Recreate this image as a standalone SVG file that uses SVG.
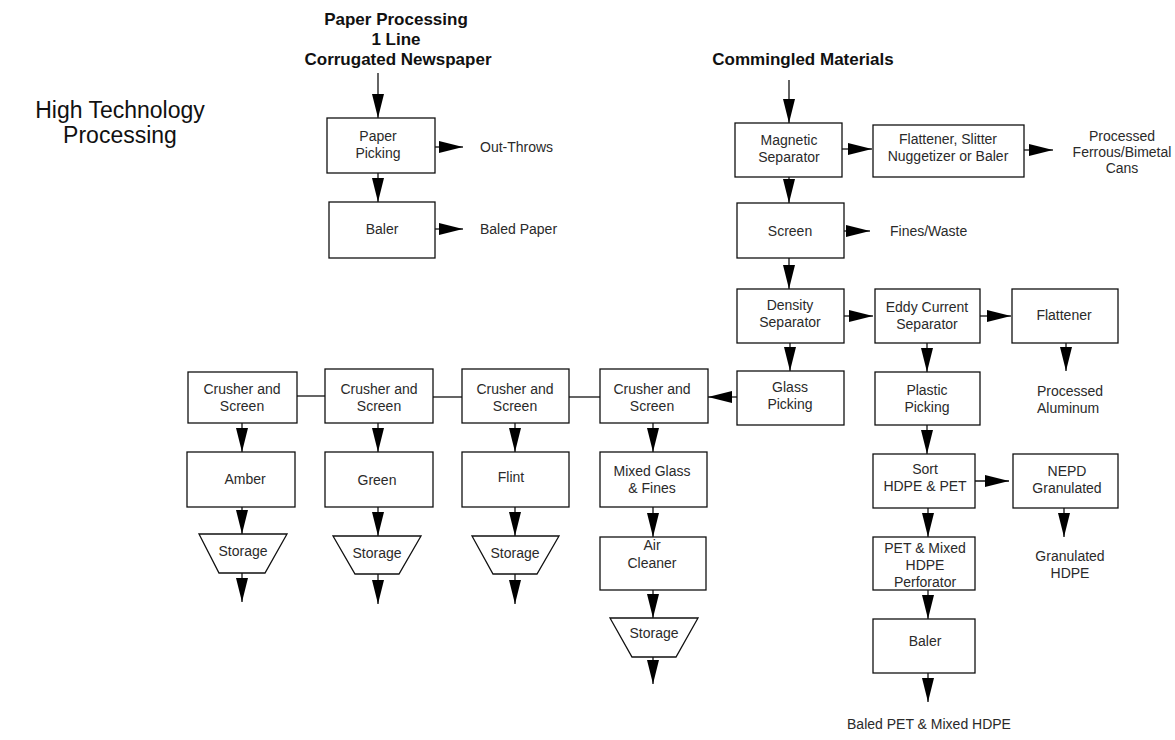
<svg xmlns="http://www.w3.org/2000/svg" width="1175" height="740" viewBox="0 0 1175 740">
<style>
  .box{fill:#fff;stroke:#111;stroke-width:1.3}
  .t{font-family:"Liberation Sans",Arial,sans-serif;font-size:14px;fill:#2a2a2a;text-anchor:middle}
  .ts{font-family:"Liberation Sans",Arial,sans-serif;font-size:14px;fill:#2a2a2a;text-anchor:start}
  .h{font-family:"Liberation Sans",Arial,sans-serif;font-size:17px;font-weight:bold;fill:#111;text-anchor:middle}
  .title{font-family:"Liberation Sans",Arial,sans-serif;font-size:23px;fill:#111;text-anchor:middle}
  .c{stroke:#111;stroke-width:1.3;fill:none}
  .a{stroke:#111;stroke-width:1.3;fill:none;marker-end:url(#ah)}
</style>
<defs>
  <marker id="ah" markerUnits="userSpaceOnUse" markerWidth="24" markerHeight="12" viewBox="0 0 24 12" refX="24" refY="6" orient="auto">
    <path d="M0,0 L24,6 L0,12 z" fill="#000"/>
  </marker>
</defs>
<rect width="1175" height="740" fill="#fff"/>

<g id="title">
  <text class="title" x="120" y="118">High Technology</text>
  <text class="title" x="120" y="143">Processing</text>
</g>
<g id="paper-header">
  <text class="h" x="396" y="25">Paper Processing</text>
  <text class="h" x="396" y="45">1 Line</text>
  <text class="h" x="398" y="65">Corrugated Newspaper</text>
</g>
<g id="commingled-header">
  <text class="h" x="803" y="65">Commingled Materials</text>
</g>

<g id="connectors">
  <line class="a" x1="378" y1="73" x2="378" y2="118"/>
  <line class="a" x1="435" y1="147" x2="463" y2="147"/>
  <line class="a" x1="378" y1="173" x2="378" y2="202"/>
  <line class="a" x1="435" y1="229" x2="463" y2="229"/>
  <line class="a" x1="789" y1="80" x2="789" y2="123"/>
  <line class="a" x1="842" y1="149" x2="872" y2="149"/>
  <line class="a" x1="1024" y1="150" x2="1053" y2="150"/>
  <line class="a" x1="789" y1="177" x2="789" y2="203"/>
  <line class="a" x1="844" y1="231" x2="870" y2="231"/>
  <line class="a" x1="789" y1="258" x2="789" y2="289"/>
  <line class="a" x1="844" y1="316" x2="873" y2="316"/>
  <line class="a" x1="980" y1="316" x2="1011" y2="316"/>
  <line class="a" x1="1066" y1="343" x2="1066" y2="371"/>
  <line class="a" x1="790" y1="343" x2="790" y2="371"/>
  <line class="a" x1="737" y1="397" x2="708" y2="397"/>
  <line class="a" x1="927" y1="343" x2="927" y2="372"/>
  <line class="a" x1="927" y1="425" x2="927" y2="454"/>
  <line class="a" x1="975" y1="481" x2="1009" y2="481"/>
  <line class="a" x1="1064" y1="508" x2="1064" y2="537"/>
  <line class="a" x1="928" y1="508" x2="928" y2="537"/>
  <line class="a" x1="928" y1="590" x2="928" y2="619"/>
  <line class="a" x1="928" y1="673" x2="928" y2="702"/>
  <line class="c" x1="297" y1="396" x2="325" y2="396"/>
  <line class="c" x1="433" y1="397" x2="462" y2="397"/>
  <line class="c" x1="569" y1="397" x2="600" y2="397"/>
  <line class="a" x1="242" y1="423" x2="242" y2="452"/>
  <line class="a" x1="378" y1="423" x2="378" y2="452"/>
  <line class="a" x1="515" y1="423" x2="515" y2="452"/>
  <line class="a" x1="653" y1="423" x2="653" y2="452"/>
  <line class="a" x1="242" y1="507" x2="242" y2="534"/>
  <line class="a" x1="378" y1="507" x2="378" y2="536"/>
  <line class="a" x1="515" y1="507" x2="515" y2="536"/>
  <line class="a" x1="653" y1="507" x2="653" y2="537"/>
  <line class="a" x1="653" y1="590" x2="653" y2="618"/>
  <line class="a" x1="242" y1="573" x2="242" y2="602"/>
  <line class="a" x1="378" y1="574" x2="378" y2="604"/>
  <line class="a" x1="515" y1="574" x2="515" y2="604"/>
  <line class="a" x1="653" y1="657" x2="653" y2="684"/>
</g>

<g id="paper-picking">
  <rect class="box" x="327" y="118" width="108" height="55"/>
  <text class="t" x="378" y="141">Paper</text>
  <text class="t" x="378" y="158">Picking</text>
</g>
<g id="out-throws"><text class="ts" x="480" y="152">Out-Throws</text></g>
<g id="baler-paper">
  <rect class="box" x="329" y="202" width="106" height="56"/>
  <text class="t" x="382" y="234">Baler</text>
</g>
<g id="baled-paper"><text class="ts" x="480" y="234">Baled Paper</text></g>

<g id="magnetic-separator">
  <rect class="box" x="735" y="123" width="107" height="54"/>
  <text class="t" x="789" y="145">Magnetic</text>
  <text class="t" x="789" y="162">Separator</text>
</g>
<g id="flattener-slitter">
  <rect class="box" x="873" y="125" width="151" height="52"/>
  <text class="t" x="948" y="144">Flattener, Slitter</text>
  <text class="t" x="948" y="161">Nuggetizer or Baler</text>
</g>
<g id="processed-ferrous">
  <text class="t" x="1122" y="141">Processed</text>
  <text class="t" x="1122" y="157">Ferrous/Bimetal</text>
  <text class="t" x="1122" y="173">Cans</text>
</g>
<g id="screen">
  <rect class="box" x="737" y="203" width="107" height="55"/>
  <text class="t" x="790" y="236">Screen</text>
</g>
<g id="fines-waste"><text class="ts" x="890" y="236">Fines/Waste</text></g>
<g id="density-separator">
  <rect class="box" x="737" y="289" width="107" height="54"/>
  <text class="t" x="790" y="310">Density</text>
  <text class="t" x="790" y="327">Separator</text>
</g>
<g id="eddy-current">
  <rect class="box" x="875" y="289" width="105" height="54"/>
  <text class="t" x="927" y="312">Eddy Current</text>
  <text class="t" x="927" y="329">Separator</text>
</g>
<g id="flattener">
  <rect class="box" x="1012" y="289" width="106" height="54"/>
  <text class="t" x="1064" y="320">Flattener</text>
</g>
<g id="processed-aluminum">
  <text class="ts" x="1037" y="396">Processed</text>
  <text class="ts" x="1037" y="413">Aluminum</text>
</g>
<g id="glass-picking">
  <rect class="box" x="737" y="371" width="107" height="54"/>
  <text class="t" x="790" y="392">Glass</text>
  <text class="t" x="790" y="409">Picking</text>
</g>
<g id="plastic-picking">
  <rect class="box" x="875" y="372" width="105" height="53"/>
  <text class="t" x="927" y="395">Plastic</text>
  <text class="t" x="927" y="412">Picking</text>
</g>
<g id="sort-hdpe-pet">
  <rect class="box" x="873" y="454" width="102" height="54"/>
  <text class="t" x="925" y="474">Sort</text>
  <text class="t" x="925" y="491">HDPE &amp; PET</text>
</g>
<g id="nepd-granulated">
  <rect class="box" x="1013" y="454" width="105" height="54"/>
  <text class="t" x="1067" y="476">NEPD</text>
  <text class="t" x="1067" y="493">Granulated</text>
</g>
<g id="granulated-hdpe">
  <text class="t" x="1070" y="561">Granulated</text>
  <text class="t" x="1070" y="578">HDPE</text>
</g>
<g id="pet-perforator">
  <rect class="box" x="873" y="537" width="102" height="53"/>
  <text class="t" x="925" y="553">PET &amp; Mixed</text>
  <text class="t" x="925" y="570">HDPE</text>
  <text class="t" x="925" y="587">Perforator</text>
</g>
<g id="baler-pet">
  <rect class="box" x="873" y="619" width="102" height="54"/>
  <text class="t" x="925" y="646">Baler</text>
</g>
<g id="baled-pet"><text class="t" x="929" y="729">Baled PET &amp; Mixed HDPE</text></g>

<g id="crusher-1">
  <rect class="box" x="188" y="372" width="109" height="51"/>
  <text class="t" x="242" y="394">Crusher and</text>
  <text class="t" x="242" y="411">Screen</text>
</g>
<g id="crusher-2">
  <rect class="box" x="325" y="369" width="108" height="54"/>
  <text class="t" x="379" y="394">Crusher and</text>
  <text class="t" x="379" y="411">Screen</text>
</g>
<g id="crusher-3">
  <rect class="box" x="462" y="369" width="107" height="54"/>
  <text class="t" x="515" y="394">Crusher and</text>
  <text class="t" x="515" y="411">Screen</text>
</g>
<g id="crusher-4">
  <rect class="box" x="600" y="369" width="108" height="54"/>
  <text class="t" x="652" y="394">Crusher and</text>
  <text class="t" x="652" y="411">Screen</text>
</g>
<g id="amber">
  <rect class="box" x="187" y="452" width="108" height="55"/>
  <text class="t" x="245" y="484">Amber</text>
</g>
<g id="green">
  <rect class="box" x="325" y="452" width="108" height="55"/>
  <text class="t" x="377" y="485">Green</text>
</g>
<g id="flint">
  <rect class="box" x="462" y="452" width="107" height="55"/>
  <text class="t" x="511" y="482">Flint</text>
</g>
<g id="mixed-glass">
  <rect class="box" x="600" y="452" width="107" height="55"/>
  <text class="t" x="652" y="476">Mixed Glass</text>
  <text class="t" x="652" y="493">&amp; Fines</text>
</g>
<g id="air-cleaner">
  <rect class="box" x="600" y="537" width="106" height="53"/>
  <text class="t" x="652" y="550">Air</text>
  <text class="t" x="652" y="568">Cleaner</text>
</g>
<g id="storage-1">
  <polygon class="box" points="199,534 287,534 265,573 219,573"/>
  <text class="t" x="243" y="556">Storage</text>
</g>
<g id="storage-2">
  <polygon class="box" points="333,536 421,536 399,574 355,574"/>
  <text class="t" x="377" y="558">Storage</text>
</g>
<g id="storage-3">
  <polygon class="box" points="472,536 559,536 537,574 493,574"/>
  <text class="t" x="515" y="558">Storage</text>
</g>
<g id="storage-4">
  <polygon class="box" points="610,618 698,618 676,657 632,657"/>
  <text class="t" x="654" y="638">Storage</text>
</g>
</svg>
